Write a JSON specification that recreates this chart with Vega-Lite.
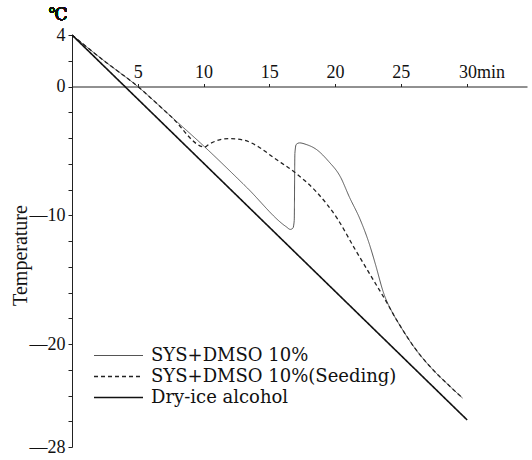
{
  "$schema": "https://vega.github.io/schema/vega-lite/v6.json",
  "width": 455,
  "height": 412,
  "autosize": "none",
  "padding": {"left": 72, "top": 35, "right": 5, "bottom": 13},
  "background": "white",
  "config": {
    "view": {"stroke": null},
    "font": "Liberation Serif"
  },
  "resolve": {"axis": {"y": "independent"}},
  "data": {
    "values": [
      {"series": "SYS+DMSO 10%", "t": 0, "temp": 4},
      {"series": "SYS+DMSO 10%", "t": 2.5, "temp": 1.95},
      {"series": "SYS+DMSO 10%", "t": 5.0, "temp": 0},
      {"series": "SYS+DMSO 10%", "t": 7.5, "temp": -2.3},
      {"series": "SYS+DMSO 10%", "t": 10.1, "temp": -4.7},
      {"series": "SYS+DMSO 10%", "t": 13.3, "temp": -7.85},
      {"series": "SYS+DMSO 10%", "t": 16.3, "temp": -10.9},
      {"series": "SYS+DMSO 10%", "t": 16.6, "temp": -11.1},
      {"series": "SYS+DMSO 10%", "t": 16.8, "temp": -11.0},
      {"series": "SYS+DMSO 10%", "t": 16.9, "temp": -10.4},
      {"series": "SYS+DMSO 10%", "t": 16.95, "temp": -5.2},
      {"series": "SYS+DMSO 10%", "t": 17.05, "temp": -4.5},
      {"series": "SYS+DMSO 10%", "t": 17.3, "temp": -4.38},
      {"series": "SYS+DMSO 10%", "t": 17.8, "temp": -4.5},
      {"series": "SYS+DMSO 10%", "t": 18.6, "temp": -4.9},
      {"series": "SYS+DMSO 10%", "t": 19.5, "temp": -5.8},
      {"series": "SYS+DMSO 10%", "t": 20.4, "temp": -7.0},
      {"series": "SYS+DMSO 10%", "t": 21.1, "temp": -8.6},
      {"series": "SYS+DMSO 10%", "t": 21.9, "temp": -10.3},
      {"series": "SYS+DMSO 10%", "t": 22.6, "temp": -12.2},
      {"series": "SYS+DMSO 10%", "t": 23.1, "temp": -13.9},
      {"series": "SYS+DMSO 10%", "t": 23.65, "temp": -15.9},
      {"series": "SYS+DMSO 10%", "t": 24.55, "temp": -17.9},
      {"series": "SYS+DMSO 10%", "t": 24.9, "temp": -18.5},
      {"series": "SYS+DMSO 10%", "t": 26.2, "temp": -20.5},
      {"series": "SYS+DMSO 10%", "t": 27.45, "temp": -22.0},
      {"series": "SYS+DMSO 10%", "t": 28.75, "temp": -23.3},
      {"series": "SYS+DMSO 10%", "t": 29.7, "temp": -24.2},
      {"series": "SYS+DMSO 10%(Seeding)", "t": 0, "temp": 4},
      {"series": "SYS+DMSO 10%(Seeding)", "t": 2.5, "temp": 1.95},
      {"series": "SYS+DMSO 10%(Seeding)", "t": 5.0, "temp": 0},
      {"series": "SYS+DMSO 10%(Seeding)", "t": 7.5, "temp": -2.3},
      {"series": "SYS+DMSO 10%(Seeding)", "t": 10.1, "temp": -4.7},
      {"series": "SYS+DMSO 10%(Seeding)", "t": 10.4, "temp": -4.5},
      {"series": "SYS+DMSO 10%(Seeding)", "t": 10.9, "temp": -4.25},
      {"series": "SYS+DMSO 10%(Seeding)", "t": 11.9, "temp": -4.05},
      {"series": "SYS+DMSO 10%(Seeding)", "t": 13.0, "temp": -4.15},
      {"series": "SYS+DMSO 10%(Seeding)", "t": 14.2, "temp": -4.7},
      {"series": "SYS+DMSO 10%(Seeding)", "t": 15.3, "temp": -5.5},
      {"series": "SYS+DMSO 10%(Seeding)", "t": 17.1, "temp": -6.8},
      {"series": "SYS+DMSO 10%(Seeding)", "t": 18.6, "temp": -8.2},
      {"series": "SYS+DMSO 10%(Seeding)", "t": 20.2, "temp": -10.3},
      {"series": "SYS+DMSO 10%(Seeding)", "t": 21.5, "temp": -12.6},
      {"series": "SYS+DMSO 10%(Seeding)", "t": 22.9, "temp": -15.0},
      {"series": "SYS+DMSO 10%(Seeding)", "t": 23.95, "temp": -16.8},
      {"series": "SYS+DMSO 10%(Seeding)", "t": 24.55, "temp": -17.9},
      {"series": "SYS+DMSO 10%(Seeding)", "t": 24.9, "temp": -18.5},
      {"series": "SYS+DMSO 10%(Seeding)", "t": 26.2, "temp": -20.5},
      {"series": "SYS+DMSO 10%(Seeding)", "t": 27.45, "temp": -22.0},
      {"series": "SYS+DMSO 10%(Seeding)", "t": 28.75, "temp": -23.3},
      {"series": "SYS+DMSO 10%(Seeding)", "t": 29.7, "temp": -24.2},
      {"series": "Dry-ice alcohol", "t": 0, "temp": 4},
      {"series": "Dry-ice alcohol", "t": 30.05, "temp": -25.9}
    ]
  },
  "layer": [
    {
      "mark": {"type": "line", "interpolate": "monotone"},
      "encoding": {
        "x": {
          "field": "t", "type": "quantitative",
          "scale": {"domain": [0, 34.6], "nice": false, "zero": false},
          "axis": {
            "orient": "top",
            "offset": -51.5,
            "title": null,
            "values": [5, 10, 15, 20, 25, 30],
            "labelExpr": "datum.value == 30 ? '30min' : datum.label",
            "labelAlign": {"condition": {"test": "datum.value == 30", "value": "left"}, "value": "center"},
            "labelOffset": {"condition": {"test": "datum.value == 30", "value": -8}, "value": 0},
            "labelFont": "Liberation Serif",
            "labelFontSize": 18,
            "labelColor": "#111",
            "labelPadding": 2,
            "labelOverlap": false,
            "tickSize": 3,
            "tickColor": "#222",
            "domainColor": "#222",
            "grid": false
          }
        },
        "y": {
          "field": "temp", "type": "quantitative",
          "scale": {"domain": [-28, 4], "nice": false, "zero": false},
          "axis": {
            "orient": "left",
            "title": "Temperature",
            "titleFont": "Liberation Serif",
            "titleFontSize": 20,
            "titleFontWeight": "normal",
            "titleColor": "#111",
            "titleAngle": -90,
            "titleAlign": "center",
            "titleBaseline": "middle",
            "titleX": -52,
            "titleY": 220,
            "values": [-28, -20, -10, 0, 4],
            "labelExpr": "datum.value < 0 ? '—' + format(-datum.value, 'd') : datum.label",
            "labelOverlap": false,
            "labelFont": "Liberation Serif",
            "labelFontSize": 18,
            "labelColor": "#111",
            "labelPadding": 3,
            "tickSize": 4,
            "tickColor": "#222",
            "domainColor": "#222",
            "grid": false
          }
        },
        "color": {
          "field": "series", "type": "nominal",
          "scale": {"domain": ["SYS+DMSO 10%", "SYS+DMSO 10%(Seeding)", "Dry-ice alcohol"], "range": ["#555555", "#222222", "#111111"]},
          "legend": {
            "orient": "none",
            "legendX": 21,
            "legendY": 310,
            "title": null,
            "symbolType": "stroke",
            "symbolSize": 2401,
            "clipHeight": 21,
            "rowPadding": 0,
            "labelFont": "DejaVu Serif",
            "labelFontSize": 18,
            "labelColor": "#111",
            "labelOffset": 7,
            "labelLimit": 400
          }
        },
        "strokeDash": {
          "field": "series", "type": "nominal",
          "scale": {"domain": ["SYS+DMSO 10%", "SYS+DMSO 10%(Seeding)", "Dry-ice alcohol"], "range": [[1, 0], [4, 3], [1, 0]]},
          "legend": null
        },
        "strokeWidth": {
          "field": "series", "type": "nominal",
          "scale": {"domain": ["SYS+DMSO 10%", "SYS+DMSO 10%(Seeding)", "Dry-ice alcohol"], "range": [1, 1.6, 2]},
          "legend": null
        }
      }
    },
    {
      "mark": {"type": "text", "text": "℃", "font": "DejaVu Serif", "fontSize": 17, "dx": -14, "dy": -20, "color": "#111"},
      "encoding": {
        "x": {"datum": 0, "type": "quantitative"},
        "y": {
          "datum": 4, "type": "quantitative",
          "axis": {
            "orient": "left",
            "title": null,
            "values": [-26, -24, -22, -18, -16, -14, -12, -8, -6, -4, -2, 2],
            "labels": false,
            "domain": false,
            "tickSize": 4,
            "tickColor": "#222",
            "grid": false
          }
        }
      }
    }
  ]
}
